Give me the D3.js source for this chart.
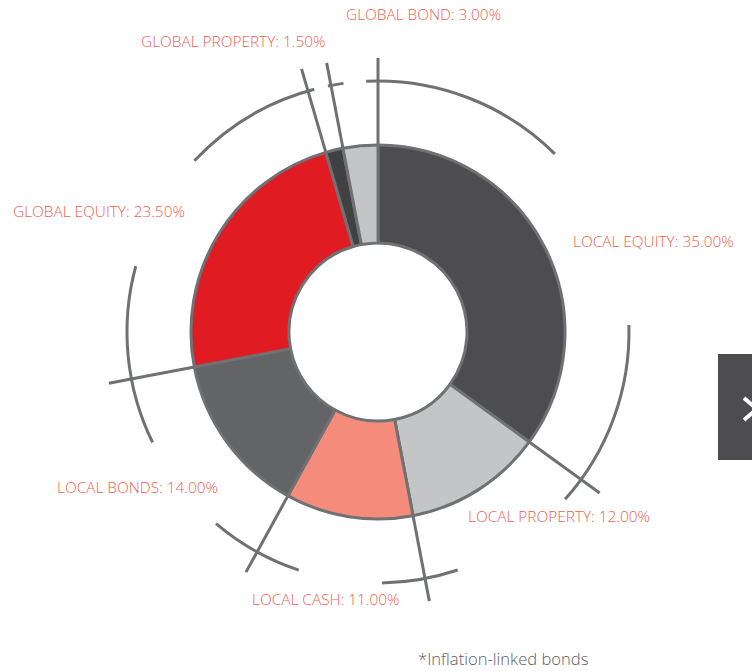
<!DOCTYPE html>
<html>
<head>
<meta charset="utf-8">
<script src="https://cdn.jsdelivr.net/npm/d3@7"></script>
<style>
  html, body { margin: 0; padding: 0; background: #ffffff; }
  svg { display: block; }
  .lbl { font-family: "Open Sans", "Lato", sans-serif; font-weight: 300; fill: #f0604f; }
  .note { font-family: "Open Sans", "Lato", sans-serif; font-weight: 300; fill: #5f6063; }
</style>
</head>
<body>
<script>
// ---- data ----
const categories = ["LOCAL EQUITY", "LOCAL PROPERTY", "LOCAL CASH", "LOCAL BONDS", "GLOBAL EQUITY", "GLOBAL PROPERTY", "GLOBAL BOND"];
const values = [35.00, 12.00, 11.00, 14.00, 23.50, 1.50, 3.00];
const colors = ["#4d4d4f", "#c4c5c7", "#f58b7b", "#636466", "#e01b22", "#414042", "#c4c5c7"];
// guide arcs around the ring (degrees clockwise from 12 o'clock)
const guideArcs = [[-2.7, 44.8], [88.4, 131.8], [161.5, 179.1], [198.4, 220.2], [243.9, 285.2], [313, 345.3], [348.5, 352.1]];
// label anchor points (left x, baseline y)
const labelPos = [[573, 247], [468, 522], [252, 605], [57, 493], [13, 217], [141, 46.5], [346, 20]];
const footnote = "*Inflation-linked bonds";

const W = 752, H = 671;
const cx = 378, cy = 332;
const rIn = 89, rOut = 187, rGuide = 251, rLine = 274;
const grey = "#707174";

const svg = d3.select("body").append("svg").attr("width", W).attr("height", H);

const data = categories.map((c, i) => ({ name: c, value: values[i], color: colors[i] }));
const pie = d3.pie().value(d => d.value).sort(null).startAngle(0).endAngle(2 * Math.PI);
const arcs = pie(data);
const arc = d3.arc().innerRadius(rIn).outerRadius(rOut);

const g = svg.append("g").attr("transform", `translate(${cx},${cy})`);

// slices
g.selectAll("path.slice").data(arcs).enter().append("path")
  .attr("class", "slice")
  .attr("d", arc)
  .attr("fill", d => d.data.color)
  .attr("stroke", grey)
  .attr("stroke-width", 3)
  .attr("stroke-linejoin", "round");

// radial leader lines at slice boundaries
const rad = d3.scaleLinear().domain([0, 360]).range([0, 2 * Math.PI]);
const pt = (a, r) => [Math.sin(a) * r, -Math.cos(a) * r];
g.selectAll("line.lead").data(arcs).enter().append("line")
  .attr("class", "lead")
  .attr("x1", d => pt(d.startAngle, rOut)[0])
  .attr("y1", d => pt(d.startAngle, rOut)[1])
  .attr("x2", d => pt(d.startAngle, rLine)[0])
  .attr("y2", d => pt(d.startAngle, rLine)[1])
  .attr("stroke", grey).attr("stroke-width", 3);

// guide arcs
const garc = d3.arc().innerRadius(rGuide).outerRadius(rGuide);
g.selectAll("path.guide").data(guideArcs).enter().append("path")
  .attr("class", "guide")
  .attr("d", d => garc({ startAngle: rad(d[0]), endAngle: rad(d[1]) }))
  .attr("fill", "none")
  .attr("stroke", grey).attr("stroke-width", 3);

// labels
svg.selectAll("text.lbl").data(arcs).enter().append("text")
  .attr("class", "lbl")
  .attr("x", (d, i) => labelPos[i][0])
  .attr("y", (d, i) => labelPos[i][1])
  .attr("font-size", 15.4)
  .text(d => `${d.data.name}: ${d.data.value.toFixed(2)}%`);

svg.append("text").attr("class", "note")
  .attr("x", 418).attr("y", 665)
  .attr("font-size", 16.6)
  .text(footnote);

// navigation tab at right edge
svg.append("rect").attr("x", 718).attr("y", 354).attr("width", 40).attr("height", 106).attr("fill", "#4d4d4f");
svg.append("polyline")
  .attr("points", "744,398 757,409 744,420")
  .attr("fill", "none").attr("stroke", "#ffffff").attr("stroke-width", 4);
</script>
</body>
</html>
